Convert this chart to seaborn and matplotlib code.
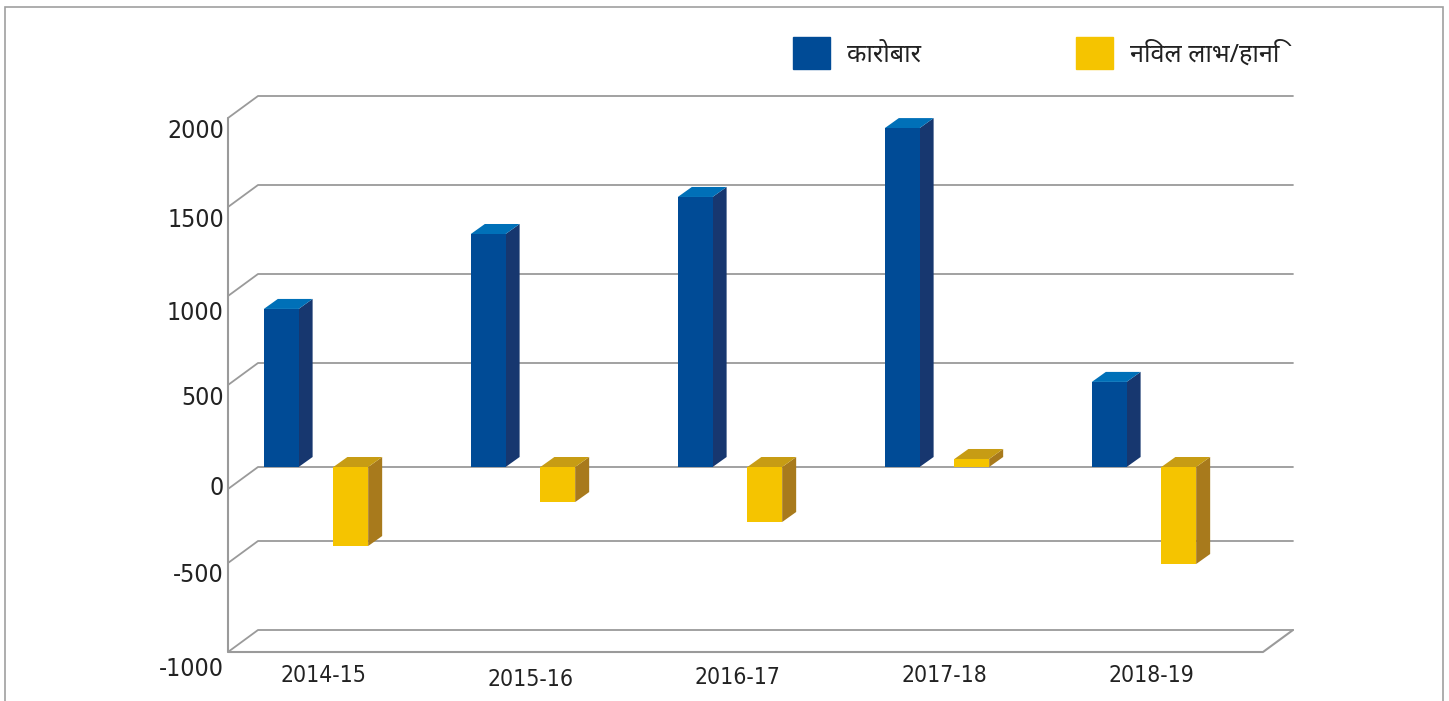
import numpy as np
import pandas as pd
import seaborn as sns
import matplotlib
matplotlib.use('Agg')
import matplotlib.pyplot as plt
import matplotlib.patches as mpatches
from matplotlib.transforms import ScaledTranslation, IdentityTransform

years = ['2014-15', '2015-16', '2016-17', '2017-18', '2018-19']
turnover = [888, 1309, 1517, 1904, 478]
net_profit = [-444, -197, -309, 45, -545]
series_names = ['कारोबार', 'निवल लाभ/हानि']
y_ticks = [2000, 1500, 1000, 500, 0, -500, -1000]

front_colors = ['#004b96', '#f5c400']
side_colors = ['#17376f', '#a87a1c']
top_colors = ['#0070b8', '#c79c14']
line_color = '#9a9a9a'
text_color = '#222222'

W, H = 1449, 701
sns.set_style('white')
plt.rcParams['font.family'] = ['Noto Sans', 'DejaVu Sans']

fig = plt.figure(figsize=(W / 100, H / 100), dpi=100)
ax_l, ax_r, ax_t, ax_b = 228, 1293, 96, 652
ax = fig.add_axes([ax_l / W, 1 - ax_b / H, (ax_r - ax_l) / W, (ax_b - ax_t) / H])
ax.patch.set_alpha(0)

df = pd.DataFrame({
  'year': years * 2,
  'value': turnover + net_profit,
  'series': [series_names[0]] * 5 + [series_names[1]] * 5,
})
sns.barplot(data=df, x='year', y='value', hue='series', hue_order=series_names,
            palette=front_colors, saturation=1, width=0.672, gap=0.5,
            legend=False, ax=ax, zorder=3, linewidth=0, edgecolor='none')

# 207 px per category, 0.178 px per unit, zero sits at pixel row 467
ax.set_xlim((ax_l - 316) / 207, (ax_r - 316) / 207)
ax.set_ylim(-(ax_b - 467) / 0.178, (467 - ax_t) / 0.178)
sns.despine(ax=ax, left=True, bottom=True)


def shift(dx, dy):
  return ScaledTranslation(dx / 100, -dy / 100, fig.dpi_scale_trans)


def pixel_line(xs, ys, lw):
  ax.plot(xs, ys, transform=IdentityTransform(), color=line_color, lw=lw,
          clip_on=False, zorder=1, solid_capstyle='round')


# walls: back line plus the slanted piece to the front plane, in display coords
depth_x, depth_y = 30, 22
wall_x = ax.transAxes.transform((0, 0))[0]
right_x = ax.transAxes.transform((1, 0))[0]
for v in y_ticks:
  up = 0 if v == 0 else 15  # the zero line sits on the bar plane
  y_back = ax.transData.transform((0, v))[1] + up
  pixel_line([wall_x, wall_x + depth_x, right_x], [y_back - depth_y, y_back, y_back], 1.3)

y_top = ax.transData.transform((0, y_ticks[0]))[1] + 15
y_bot = ax.transData.transform((0, y_ticks[-1]))[1] + 15
pixel_line([wall_x, wall_x, right_x - depth_x, right_x],
           [y_top - depth_y, y_bot - depth_y, y_bot - depth_y, y_bot], 1.5)

# side and top faces of the bars
for container, side, top in zip(ax.containers, side_colors, top_colors):
  for bar in container:
    x0, y0 = ax.transData.transform((bar.get_x(), bar.get_y()))
    x1, y1 = ax.transData.transform((bar.get_x() + bar.get_width(), bar.get_y() + bar.get_height()))
    lo, hi = min(y0, y1), max(y0, y1)
    dx, dy = 14, 10
    ax.add_patch(mpatches.Polygon([(x1, lo), (x1 + dx, lo + dy), (x1 + dx, hi + dy), (x1, hi)],
                                  transform=IdentityTransform(), fc=side, ec='none', zorder=2.9, clip_on=False))
    ax.add_patch(mpatches.Polygon([(x0, hi), (x0 + dx, hi + dy), (x1 + dx, hi + dy), (x1, hi)],
                                  transform=IdentityTransform(), fc=top, ec='none', zorder=2.9, clip_on=False))

# tick labels
ax.set_xlabel('')
ax.set_ylabel('')
ax.set_yticks(y_ticks, [str(v) for v in y_ticks], fontsize=17.8, color=text_color,
              family='DejaVu Sans', stretch='condensed')
ax.set_xticks(np.arange(5) + 0.035, years, fontsize=16.5, color=text_color,
              family='DejaVu Sans', stretch='condensed')
ax.tick_params(axis='both', length=0)
ax.tick_params(axis='y', pad=3)
ax.tick_params(axis='x', pad=9)
for label, dy in zip(ax.get_yticklabels(), [17, 17, 21, 17, 18, 17, 22]):
  label.set_transform(label.get_transform() + shift(0, dy))
for label, dy in zip(ax.get_xticklabels(), [0, 3, 2, 0, 0]):
  label.set_transform(label.get_transform() + shift(0, dy))

# legend
fs = 18.2
fs_px = fs / 0.72
handles = [mpatches.Patch(color=c, label=n) for c, n in zip(front_colors, series_names)]
fig.legend(handles=handles, ncol=2, frameon=False, fontsize=fs, labelcolor=text_color,
           loc='upper left', bbox_to_anchor=(793 / W, 1 - 37 / H), borderaxespad=0, borderpad=0,
           handlelength=37 / fs_px, handleheight=1.585, handletextpad=17 / fs_px,
           columnspacing=155 / fs_px)

# outer frame of the picture
fig.add_artist(plt.Rectangle((5 / W, -0.01), (1443 - 5) / W, 1.01 - 7 / H, transform=fig.transFigure,
                             fc='none', ec='#a0a0a0', lw=1.2))

fig.savefig('out.png', dpi=100)
plt.close(fig)
